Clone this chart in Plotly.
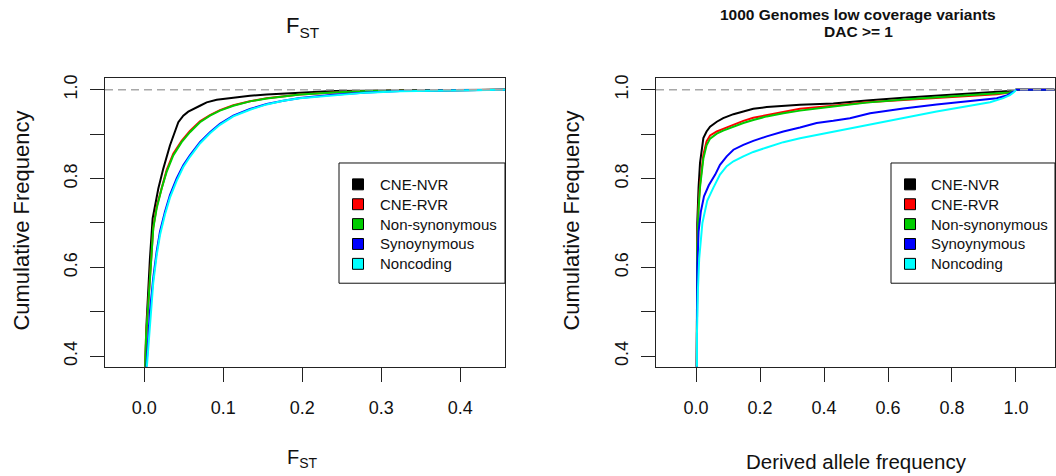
import plotly.graph_objects as go

# ---------------- data ----------------
series_names = ["CNE-NVR", "CNE-RVR", "Non-synonymous", "Synoynymous", "Noncoding"]
series_colors = ["#000000", "#FF0000", "#00CD00", "#0000FF", "#00FFFF"]

# Left panel: FST cumulative frequency
fst_x_nvr = [0.0, 0.0009, 0.003, 0.0072, 0.0106, 0.0178, 0.0241, 0.0325, 0.0431, 0.0494, 0.0557, 0.0705,
             0.079, 0.0917, 0.1127, 0.1338, 0.155, 0.197, 0.239, 0.2815, 0.3237, 0.4566]
fst_y_nvr = [0.30, 0.3765, 0.479, 0.621, 0.7106, 0.7777, 0.8224, 0.8746, 0.9268, 0.9418, 0.9507, 0.964,
             0.9716, 0.9776, 0.9828, 0.9865, 0.9895, 0.994, 0.997, 0.998, 0.999, 1.0]

fst_x_rvr = [0.0, 0.0009, 0.0022, 0.0051, 0.0081, 0.0114, 0.0157, 0.022, 0.0283, 0.0367, 0.0473, 0.0578,
             0.0705, 0.0832, 0.0958, 0.1127, 0.1338, 0.155, 0.176, 0.197, 0.239, 0.2815, 0.3237, 0.3659, 0.4566]
fst_y_rvr = [0.30, 0.3765, 0.445, 0.52, 0.595, 0.69, 0.737, 0.781, 0.819, 0.856, 0.885, 0.907,
             0.929, 0.943, 0.954, 0.965, 0.974, 0.981, 0.985, 0.9895, 0.994, 0.997, 0.998, 0.999, 1.0]

fst_x_nsyn = [0.0, 0.0009, 0.0022, 0.0051, 0.0081, 0.0114, 0.0157, 0.022, 0.0283, 0.0367, 0.0473, 0.0578,
              0.0705, 0.0832, 0.0958, 0.1127, 0.1338, 0.155, 0.176, 0.197, 0.239, 0.2815, 0.3237, 0.3659, 0.4566]
fst_y_nsyn = [0.30, 0.3765, 0.442, 0.5167, 0.5913, 0.6882, 0.733, 0.7777, 0.815, 0.8523, 0.8821, 0.9045,
              0.9268, 0.9418, 0.953, 0.964, 0.9738, 0.9805, 0.985, 0.9895, 0.994, 0.997, 0.998, 0.999, 1.0]

fst_x_syn = [0.0, 0.003, 0.0051, 0.0072, 0.0114, 0.0157, 0.0199, 0.0262, 0.0325, 0.041, 0.0494, 0.0578,
             0.0705, 0.0832, 0.0958, 0.1127, 0.1338, 0.155, 0.176, 0.197, 0.239, 0.2815, 0.3237, 0.3659,
             0.408, 0.4566]
fst_y_syn = [0.30, 0.3765, 0.442, 0.5018, 0.5764, 0.636, 0.6808, 0.7255, 0.7628, 0.8001, 0.8299, 0.8523,
             0.8821, 0.9045, 0.9231, 0.9418, 0.9567, 0.9679, 0.9753, 0.9813, 0.9887, 0.994, 0.997, 0.998,
             0.999, 1.0]

fst_x_nonc = [0.0, 0.003, 0.0051, 0.0072, 0.0114, 0.0157, 0.0199, 0.0262, 0.0325, 0.041, 0.0494, 0.0578,
              0.0705, 0.0832, 0.0958, 0.1127, 0.1338, 0.155, 0.176, 0.197, 0.239, 0.2815, 0.3237, 0.3659,
              0.408, 0.4566]
fst_y_nonc = [0.30, 0.37, 0.43, 0.49, 0.566, 0.627, 0.673, 0.719, 0.757, 0.795, 0.826, 0.849,
              0.879, 0.902, 0.921, 0.940, 0.955, 0.967, 0.975, 0.981, 0.988, 0.9935, 0.9965, 0.998,
              0.999, 1.0]

# Right panel: derived allele frequency cumulative frequency
daf_x_nvr = [0.002, 0.002, 0.004, 0.008, 0.0125, 0.023, 0.033, 0.044, 0.065, 0.085, 0.117, 0.148, 0.179,
             0.221, 0.273, 0.325, 0.429, 0.533, 0.648, 0.752, 0.856, 0.94, 0.98, 1.0, 1.12]
daf_y_nvr = [0.30, 0.62, 0.70, 0.78, 0.835, 0.891, 0.906, 0.917, 0.928, 0.936, 0.945, 0.951, 0.957,
             0.961, 0.964, 0.966, 0.969, 0.976, 0.982, 0.987, 0.991, 0.995, 0.997, 1.0, 1.0]

daf_x_rvr = [0.002, 0.002, 0.004, 0.008, 0.0125, 0.023, 0.033, 0.044, 0.065, 0.085, 0.117, 0.148, 0.179,
             0.221, 0.273, 0.325, 0.429, 0.533, 0.648, 0.752, 0.856, 0.94, 0.98, 1.0, 1.12]
daf_y_rvr = [0.30, 0.58, 0.66, 0.74, 0.787, 0.854, 0.884, 0.897, 0.906, 0.912, 0.922, 0.930, 0.937,
             0.943, 0.951, 0.957, 0.964, 0.972, 0.977, 0.982, 0.987, 0.990, 0.994, 1.0, 1.0]

daf_x_nsyn = [0.002, 0.002, 0.004, 0.008, 0.0125, 0.023, 0.033, 0.044, 0.065, 0.085, 0.117, 0.148, 0.179,
              0.221, 0.273, 0.325, 0.429, 0.533, 0.648, 0.752, 0.856, 0.94, 0.98, 1.0, 1.12]
daf_y_nsyn = [0.30, 0.56, 0.65, 0.73, 0.78, 0.845, 0.875, 0.890, 0.901, 0.908, 0.917, 0.925, 0.932,
              0.940, 0.947, 0.953, 0.962, 0.971, 0.978, 0.983, 0.988, 0.991, 0.994, 1.0, 1.0]

daf_x_syn = [0.002, 0.002, 0.004, 0.008, 0.015, 0.025, 0.04, 0.06, 0.075, 0.096, 0.117, 0.148, 0.179,
             0.221, 0.273, 0.325, 0.377, 0.429, 0.481, 0.544, 0.648, 0.752, 0.856, 0.94, 0.971, 0.986,
             0.994, 1.0, 1.12]
daf_y_syn = [0.30, 0.50, 0.60, 0.68, 0.725, 0.76, 0.785, 0.809, 0.831, 0.850, 0.865, 0.876, 0.885,
             0.895, 0.906, 0.915, 0.925, 0.930, 0.936, 0.947, 0.958, 0.967, 0.975, 0.981, 0.987, 0.994,
             0.998, 1.0, 1.0]

daf_x_nonc = [0.003, 0.003, 0.006, 0.01, 0.02, 0.035, 0.054, 0.075, 0.096, 0.117, 0.148, 0.179, 0.221,
              0.273, 0.325, 0.377, 0.429, 0.481, 0.544, 0.648, 0.752, 0.856, 0.919, 0.96, 0.981, 0.994, 1.0]
daf_y_nonc = [0.30, 0.45, 0.55, 0.62, 0.70, 0.75, 0.779, 0.809, 0.828, 0.839, 0.850, 0.860, 0.870,
              0.882, 0.891, 0.8985, 0.906, 0.913, 0.922, 0.937, 0.951, 0.964, 0.972, 0.981, 0.988, 0.995, 1.0]

fst_ticks = [0.0, 0.1, 0.2, 0.3, 0.4]
fst_ticktext = ["0.0", "0.1", "0.2", "0.3", "0.4"]
daf_ticks = [0.0, 0.2, 0.4, 0.6, 0.8, 1.0]
daf_ticktext = ["0.0", "0.2", "0.4", "0.6", "0.8", "1.0"]
y_ticks = [0.4, 0.6, 0.8, 1.0]
y_ticktext = ["0.4", "0.6", "0.8", "1.0"]

# ---------------- figure ----------------
W, H = 1056, 476
FONT = "Liberation Sans, Arial, Helvetica, sans-serif"
INK = "#111111"

def px_x(p):
    return p / W

def px_y(p):
    return 1 - p / H

fig = go.Figure()

left = [(fst_x_nvr, fst_y_nvr), (fst_x_rvr, fst_y_rvr), (fst_x_nsyn, fst_y_nsyn),
        (fst_x_syn, fst_y_syn), (fst_x_nonc, fst_y_nonc)]
right = [(daf_x_nvr, daf_y_nvr), (daf_x_rvr, daf_y_rvr), (daf_x_nsyn, daf_y_nsyn),
         (daf_x_syn, daf_y_syn), (daf_x_nonc, daf_y_nonc)]

for (xs, ys), col, nm in zip(left, series_colors, series_names):
    fig.add_trace(go.Scatter(x=xs, y=ys, mode="lines", line=dict(color=col, width=2),
                             name=nm, showlegend=False, xaxis="x", yaxis="y"))
for (xs, ys), col, nm in zip(right, series_colors, series_names):
    fig.add_trace(go.Scatter(x=xs, y=ys, mode="lines", line=dict(color=col, width=2),
                             name=nm, showlegend=False, xaxis="x2", yaxis="y2"))

ydom = [px_y(366), px_y(75)]
axis_common = dict(showline=True, mirror=True, linecolor="#222222", linewidth=1,
                   showgrid=False, zeroline=False, ticks="outside", ticklen=14,
                   tickwidth=1, tickcolor="#222222",
                   tickfont=dict(family=FONT, size=18, color=INK))
minor_y = dict(dtick=0.1, tick0=0.4, ticks="outside", ticklen=14, tickwidth=1,
               tickcolor="#222222", showgrid=False)

fig.update_layout(
    width=W, height=H,
    margin=dict(l=0, r=0, t=0, b=0),
    paper_bgcolor="white", plot_bgcolor="white",
    font=dict(family=FONT, color=INK),
    showlegend=False,
    xaxis=dict(domain=[px_x(105), px_x(505)], range=[-0.0497, 0.4566], anchor="y",
               tickvals=fst_ticks, ticktext=fst_ticktext, ticklabelstandoff=11, **axis_common),
    yaxis=dict(domain=ydom, range=[0.3765, 1.0275], anchor="x",
               tickvals=y_ticks, ticktext=y_ticktext, tickangle=-90, ticklabelstandoff=6,
               minor=minor_y, **axis_common),
    xaxis2=dict(domain=[px_x(656), px_x(1055)], range=[-0.125, 1.1219], anchor="y2",
                tickvals=daf_ticks, ticktext=daf_ticktext, ticklabelstandoff=11, **axis_common),
    yaxis2=dict(domain=ydom, range=[0.3765, 1.0275], anchor="x2",
                tickvals=y_ticks, ticktext=y_ticktext, tickangle=-90, ticklabelstandoff=6,
                minor=minor_y, **axis_common),
)

# dashed reference line at cumulative frequency 1
for xr, yr in [("x domain", "y"), ("x2 domain", "y2")]:
    fig.add_shape(type="line", xref=xr, yref=yr, x0=0, x1=1, y0=1.0, y1=1.0,
                  line=dict(color="#A8A8A8", width=1.5, dash="8px,5px"), layer="above")

# legends (box, square keys, labels) for both panels
legend_specs = [dict(box=(339, 505), key_cx=358, text_x=378),
                dict(box=(891, 1055), key_cx=910, text_x=929)]
row_y0, row_step, key_half = 182.5, 20, 5.5
for spec in legend_specs:
    bx0, bx1 = spec["box"]
    fig.add_shape(type="rect", xref="paper", yref="paper",
                  x0=px_x(bx0), x1=px_x(bx1), y0=px_y(282), y1=px_y(161),
                  line=dict(color=INK, width=1), fillcolor="white", layer="above")
    for i, (col, nm) in enumerate(zip(series_colors, series_names)):
        cy = row_y0 + i * row_step
        fig.add_shape(type="rect", xref="paper", yref="paper",
                      x0=px_x(spec["key_cx"] - key_half), x1=px_x(spec["key_cx"] + key_half),
                      y0=px_y(cy + key_half), y1=px_y(cy - key_half),
                      line=dict(color="black", width=1), fillcolor=col, layer="above")
        fig.add_annotation(x=px_x(spec["text_x"]), y=px_y(cy), xref="paper", yref="paper",
                           showarrow=False, text=nm, xanchor="left", yanchor="middle",
                           font=dict(family=FONT, size=15, color=INK))

# titles
fig.add_annotation(x=px_x(303), y=px_y(24), xref="paper", yref="paper", showarrow=False,
                   text="F<sub>ST</sub>", font=dict(family=FONT, size=22, color=INK),
                   xanchor="center", yanchor="middle")
fig.add_annotation(x=px_x(858), y=px_y(12), xref="paper", yref="paper", showarrow=False,
                   text="<b>1000 Genomes low coverage variants</b>",
                   font=dict(family=FONT, size=15.5, color=INK),
                   xanchor="center", yanchor="middle")
fig.add_annotation(x=px_x(858), y=px_y(29), xref="paper", yref="paper", showarrow=False,
                   text="<b>DAC >= 1</b>",
                   font=dict(family=FONT, size=15.5, color=INK),
                   xanchor="center", yanchor="middle")

# axis titles
fig.add_annotation(x=px_x(302), y=px_y(458), xref="paper", yref="paper", showarrow=False,
                   text="F<sub>ST</sub>", font=dict(family=FONT, size=20, color=INK),
                   xanchor="center", yanchor="middle")
fig.add_annotation(x=px_x(856), y=px_y(461), xref="paper", yref="paper", showarrow=False,
                   text="Derived allele frequency", font=dict(family=FONT, size=20.5, color=INK),
                   xanchor="center", yanchor="middle")
for xc in [22, 572]:
    fig.add_annotation(x=px_x(xc), y=px_y(219), xref="paper", yref="paper", showarrow=False,
                       text="Cumulative Frequency", textangle=-90,
                       font=dict(family=FONT, size=22, color=INK),
                       xanchor="center", yanchor="middle")

fig.write_html("out.html")
